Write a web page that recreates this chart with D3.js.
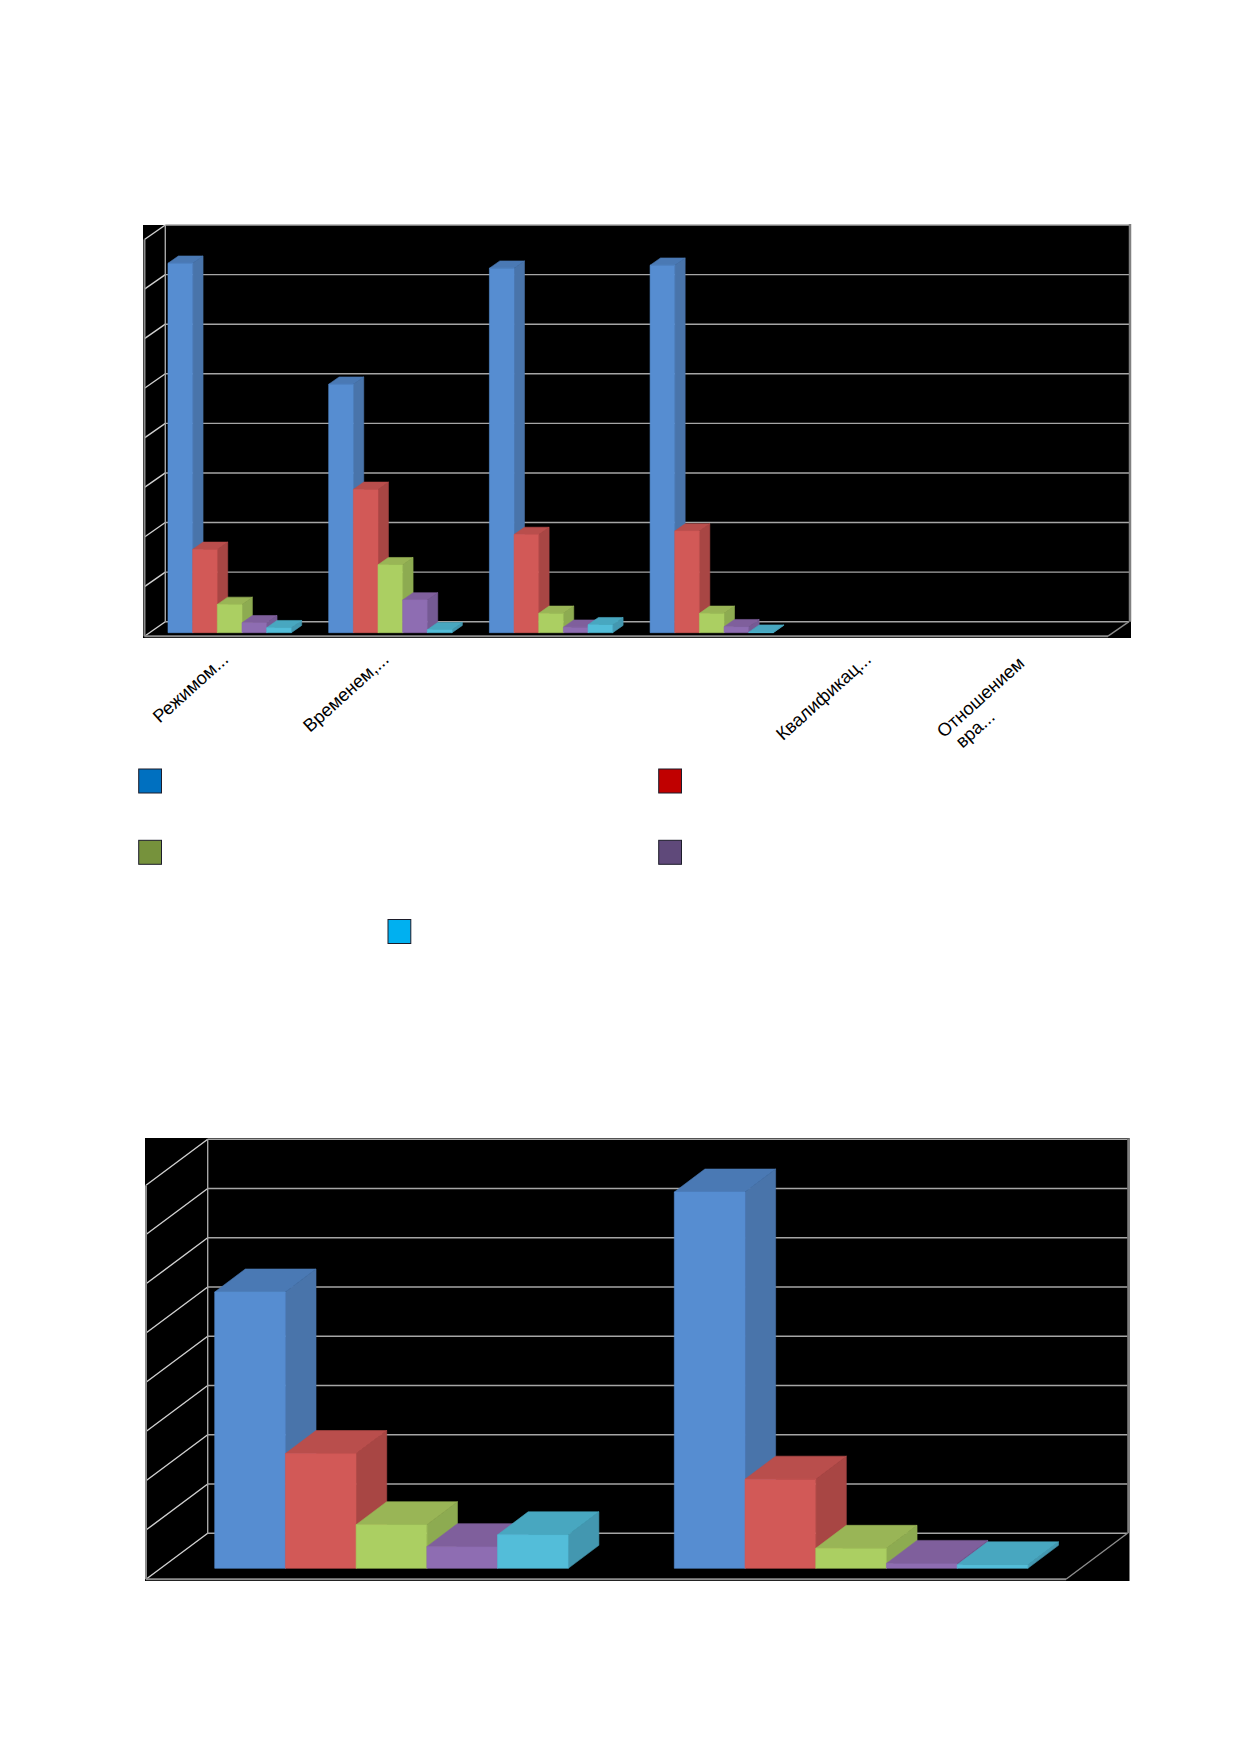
<!DOCTYPE html>
<html>
<head>
<meta charset="utf-8">
<script src="https://cdn.jsdelivr.net/npm/d3@7"></script>
<style>
  html, body { margin: 0; padding: 0; background: #fff; }
  svg { display: block; }
  .tick-label { font-family: "Liberation Sans", Arial, sans-serif; font-size: 18.2px; fill: #000; }
</style>
</head>
<body>
<div id="charts"></div>
<script>
// Values, one gridline = 10 units
var maxValue = 80;

// top chart
var topCategories = ["Режимом...", "Временем,...", " ", "  ", "Квалификац...", "Отношением\nвра..."];
var topSeries1 = [74.5, 50.1, 73.5, 74.1, 0, 0];
var topSeries2 = [16.8, 28.9, 19.8, 20.5, 0, 0];
var topSeries3 = [5.7, 13.7, 3.9, 3.9, 0, 0];
var topSeries4 = [2.0, 6.6, 1.1, 1.2, 0, 0];
var topSeries5 = [1.0, 0.6, 1.6, 0.1, 0, 0];

// bottom chart, its category labels are not visible in the picture
var bottomCategories = ["a", "b"];
var bottomSeries1 = [56.1, 76.4];
var bottomSeries2 = [23.3, 18.1];
var bottomSeries3 = [8.85, 4.06];
var bottomSeries4 = [4.4, 1.0];
var bottomSeries5 = [6.8, 0.7];

// front, side, top face of every series
var faceColors = [
    ["#568dd1", "#4974aa", "#4a79b4"],
    ["#d25957", "#a84644", "#b94e4c"],
    ["#abcf62", "#8dab51", "#99b556"],
    ["#8e6db2", "#755a94", "#7f5f9c"],
    ["#53bdd9", "#4397b0", "#48a7c0"]
];
var legendColors = ["#0070c0", "#c00000", "#76923c", "#5f497a", "#00b0f0"];

var svg = d3.select("#charts").append("svg")
    .attr("width", 1239)
    .attr("height", 1752);

// Draws one 3D clustered column chart
function drawChart(categories, series, box){

    var g = svg.append("g");

    g.append("rect")
        .attr("x", box.left)
        .attr("y", box.top)
        .attr("width", box.right - box.left)
        .attr("height", box.bottom - box.top)
        .attr("fill", "#000");

    var yBack = d3.scaleLinear().domain([0, maxValue]).range([box.floorBack, box.wallTop]);
    var yFront = d3.scaleLinear().domain([0, maxValue])
        .range([box.base, box.base - (box.floorBack - box.wallTop)]);

    var x0 = d3.scaleBand()
        .domain(categories)
        .range(box.bandRange)
        .paddingInner(box.gap)
        .paddingOuter(box.gap / 2);
    var x1 = d3.scaleBand()
        .domain(d3.range(series.length))
        .range([0, x0.bandwidth()]);

    // back wall gridlines
    g.selectAll(".grid")
        .data(yBack.ticks(8))
        .enter().append("line")
        .attr("class", "grid")
        .attr("x1", box.wallX)
        .attr("x2", box.wallRight)
        .attr("y1", function(d) { return yBack(d); })
        .attr("y2", function(d) { return yBack(d); })
        .attr("stroke", "#a6a6a6")
        .attr("stroke-width", 1.4);

    // side wall gridlines
    g.selectAll(".side")
        .data(yBack.ticks(8))
        .enter().append("line")
        .attr("class", "side")
        .attr("x1", box.wallX)
        .attr("x2", box.frontX)
        .attr("y1", function(d) { return yBack(d); })
        .attr("y2", function(d) { return yBack(d) + box.sideDrop; })
        .attr("stroke", "#d0d0d0")
        .attr("stroke-width", 1.4);

    // wall edges and floor
    var edges = [
        [box.wallX, box.wallTop, box.wallX, box.floorBack, "#a6a6a6", 1.4],
        [box.frontX, box.wallTop + box.sideDrop, box.frontX, box.floorBack + box.sideDrop, "#8c8c8c", 2],
        [box.frontX, box.floorBack + box.sideDrop, box.floorEnd, box.floorBack + box.sideDrop, "#8c8c8c", 2],
        [box.floorEnd, box.floorBack + box.sideDrop, box.wallRight, box.floorBack, "#8c8c8c", 1.4],
        [box.wallRight + 1, box.wallTop - 1, box.wallRight + 1, box.floorBack, "#808080", 2.5]
    ];
    g.selectAll(".edge")
        .data(edges)
        .enter().append("line")
        .attr("class", "edge")
        .attr("x1", function(d) { return d[0]; })
        .attr("y1", function(d) { return d[1]; })
        .attr("x2", function(d) { return d[2]; })
        .attr("y2", function(d) { return d[3]; })
        .attr("stroke", function(d) { return d[4]; })
        .attr("stroke-width", function(d) { return d[5]; });

    // Bars, left to right so the later ones cover the sides of the earlier ones
    var dx = box.depthX;
    var dy = box.depthY;
    categories.forEach(function(cat, c){
        series.forEach(function(values, s){
            if(values[c] <= 0){
                return;
            }
            var xl = x0(cat) + x1(s);
            var xr = xl + x1.bandwidth();
            var yt = yFront(values[c]);
            var yb = yFront(0);
            var faces = [
                [[xr, yt], [xr + dx, yt - dy], [xr + dx, yb - dy], [xr, yb]],
                [[xl, yt], [xl + dx, yt - dy], [xr + dx, yt - dy], [xr, yt]],
                [[xl, yt], [xr, yt], [xr, yb], [xl, yb]]
            ];
            var faceFill = [faceColors[s][1], faceColors[s][2], faceColors[s][0]];
            faces.forEach(function(pts, f){
                // thin stroke in the same colour hides the seams between faces
                g.append("path")
                    .attr("d", d3.line()(pts) + "Z")
                    .attr("fill", faceFill[f])
                    .attr("stroke", faceFill[f])
                    .attr("stroke-width", 0.6);
            });
        });
    });

    return x0;
}

var topX = drawChart(topCategories,
    [topSeries1, topSeries2, topSeries3, topSeries4, topSeries5],
    {
        left: 143, right: 1131, top: 225, bottom: 638,
        wallX: 165.3, wallRight: 1129, wallTop: 225, floorBack: 621.7,
        frontX: 144.5, sideDrop: 14.5, floorEnd: 1108,
        base: 632.7, bandRange: [149.3, 1113.5], gap: 0.2327,
        depthX: 10.4, depthY: 7.3
    });

drawChart(bottomCategories,
    [bottomSeries1, bottomSeries2, bottomSeries3, bottomSeries4, bottomSeries5],
    {
        left: 145, right: 1129.5, top: 1138, bottom: 1581,
        wallX: 207.7, wallRight: 1127.5, wallTop: 1139.3, floorBack: 1533.3,
        frontX: 146, sideDrop: 46, floorEnd: 1066,
        base: 1568.3, bandRange: [161.7, 1080.9], gap: 0.2307,
        depthX: 30.6, depthY: 23
    });

// Category labels of the top chart
var xAxis = svg.append("g")
    .attr("transform", "translate(-5.6,655)")
    .call(d3.axisBottom(topX).tickSize(0));
xAxis.select(".domain").remove();
xAxis.selectAll("text").each(function(d){
    var lines = d.split("\n");
    var t = d3.select(this)
        .attr("class", "tick-label")
        .attr("text-anchor", "end")
        .attr("transform", "rotate(-42) translate(0,8)")
        .attr("y", 0)
        .attr("dy", 0)
        .text(null);
    lines.forEach(function(line, i){
        // wrapped labels sit further back along the slope
        t.append("tspan")
            .attr("x", lines.length > 1 ? -8 - 58 * i : 0)
            .attr("y", lines.length > 1 ? i * 20 - 2 : 0)
            .text(line);
    });
});

// Legend of the top chart, its names are not visible in the picture
var legendX = [138.7, 658.7, 138.7, 658.7, 388];
var legendY = [769, 769, 840.3, 840.3, 919.5];
svg.selectAll(".swatch")
    .data(legendColors)
    .enter().append("rect")
    .attr("class", "swatch")
    .attr("x", function(d, i) { return legendX[i]; })
    .attr("y", function(d, i) { return legendY[i]; })
    .attr("width", 22.8)
    .attr("height", 24)
    .attr("fill", function(d) { return d; })
    .attr("stroke", "#1c1c2a")
    .attr("stroke-width", 1);
</script>
</body>
</html>
